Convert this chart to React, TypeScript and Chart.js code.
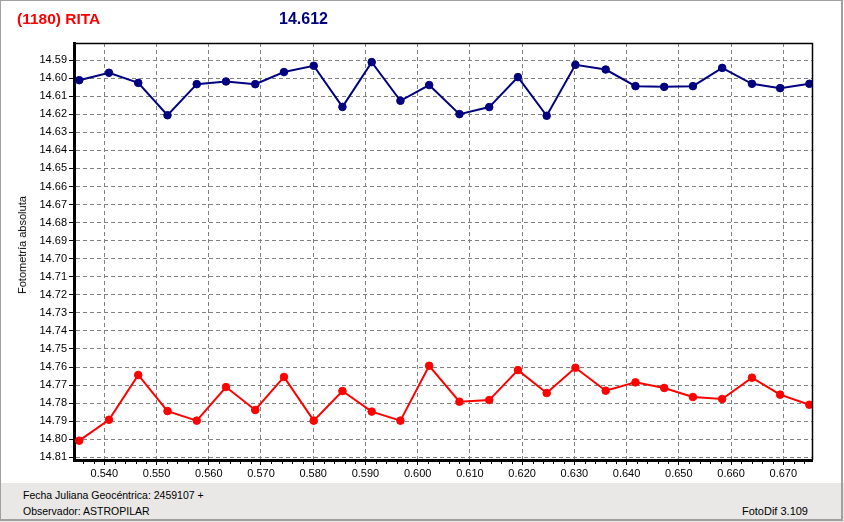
import React, { useEffect, useRef } from "react";
import { Chart, registerables } from "chart.js";

Chart.register(...registerables);

const xValues = [
  0.5352, 0.5409, 0.5465, 0.5521, 0.5577, 0.5633, 0.5689, 0.5744, 0.5801,
  0.5856, 0.5912, 0.5967, 0.6022, 0.608, 0.6137, 0.6192, 0.6247, 0.6302,
  0.636, 0.6417, 0.6472, 0.6527, 0.6583, 0.664, 0.6694, 0.675,
];
const blueValues = [
  14.6011, 14.597, 14.6026, 14.6205, 14.6033, 14.6018, 14.6033, 14.5966,
  14.5931, 14.6159, 14.5911, 14.6125, 14.6038, 14.6199, 14.616, 14.5994,
  14.6208, 14.5926, 14.5952, 14.6044, 14.6048, 14.6044, 14.5943, 14.6031,
  14.6055, 14.6031,
];
const redValues = [
  14.8008, 14.7892, 14.7644, 14.7844, 14.7897, 14.7711, 14.7838, 14.7655,
  14.7897, 14.7733, 14.7847, 14.7897, 14.7593, 14.7792, 14.7783, 14.7617,
  14.7744, 14.7604, 14.7731, 14.7685, 14.7716, 14.7766, 14.7777, 14.7659,
  14.7753, 14.7809,
];
const titleText = "(1180) RITA";
const valueText = "14.612";
const yAxisTitle = "Fotometría absoluta";
const footerLeft1 = "Fecha Juliana Geocéntrica: 2459107 +";
const footerLeft2 = "Observador: ASTROPILAR";
const footerRight = "FotoDif 3.109";

const X_MIN = 0.5342;
const X_MAX = 0.6755;
const Y_MIN = 14.5805;
const Y_MAX = 14.8115;

const FONT = "'Liberation Sans', Arial, sans-serif";

const framePlugin = {
  id: "frame",
  afterDraw(chart: any) {
    const { ctx, chartArea, scales } = chart;
    const xs = scales.x;
    ctx.save();
    ctx.strokeStyle = "#000";
    ctx.lineWidth = 1;
    // minor ticks on x axis
    for (let k = 268; k <= 337; k++) {
      if (k % 5 === 0) continue;
      const vv = k * 0.002;
      if (vv < X_MIN || vv > X_MAX) continue;
      const px = Math.round(xs.getPixelForValue(vv)) + 0.5;
      ctx.beginPath();
      ctx.moveTo(px, chartArea.bottom + 1);
      ctx.lineTo(px, chartArea.bottom + 4);
      ctx.stroke();
    }
    ctx.lineWidth = 1.5;
    ctx.beginPath();
    ctx.moveTo(chartArea.left, chartArea.top + 0.5);
    ctx.lineTo(chartArea.right + 0.5, chartArea.top + 0.5);
    ctx.lineTo(chartArea.right + 0.5, chartArea.bottom);
    ctx.stroke();
    ctx.restore();
  },
};

export default function App() {
  const ref = useRef<HTMLCanvasElement | null>(null);

  useEffect(() => {
    document.body.style.margin = "0";
    const canvas = ref.current;
    if (!canvas) return;
    const blueData = xValues.map((x, i) => ({ x, y: blueValues[i] }));
    const redData = xValues.map((x, i) => ({ x, y: redValues[i] }));
    const chart = new Chart(canvas, {
      type: "line",
      data: {
        datasets: [
          {
            data: blueData,
            borderColor: "#000080",
            backgroundColor: "#000080",
            borderWidth: 2,
            pointRadius: 3.8,
            pointBorderWidth: 1,
            pointStyle: "circle",
            tension: 0,
          },
          {
            data: redData,
            borderColor: "#ff0000",
            backgroundColor: "#ff0000",
            borderWidth: 2,
            pointRadius: 3.8,
            pointBorderWidth: 1,
            pointStyle: "circle",
            tension: 0,
          },
        ],
      },
      options: {
        animation: false,
        responsive: false,
        devicePixelRatio: 1,
        layout: { padding: { left: 0, top: 43, right: 32, bottom: 0 } },
        plugins: {
          legend: { display: false },
          tooltip: { enabled: false },
          title: { display: false },
        },
        scales: {
          x: {
            type: "linear",
            position: "bottom",
            min: X_MIN,
            max: X_MAX,
            offset: false,
            afterFit: (s: any) => {
              s.height = 24;
            },
            ticks: {
              stepSize: 0.01,
              includeBounds: false,
              autoSkip: false,
              maxRotation: 0,
              padding: 2,
              color: "#000",
              font: { family: FONT, size: 11 },
              callback: (v: any) => Number(v).toFixed(3),
            },
            grid: {
              color: "#808080",
              lineWidth: 1,
              tickLength: 5,
              tickColor: "#000",
              tickBorderDash: [],
            },
            border: { display: true, color: "#000", width: 3, dash: [4, 3] },
          },
          y: {
            type: "linear",
            reverse: true,
            min: Y_MIN,
            max: Y_MAX,
            afterFit: (s: any) => {
              s.width = 74;
            },
            ticks: {
              stepSize: 0.01,
              includeBounds: false,
              autoSkip: false,
              padding: 2,
              color: "#000",
              font: { family: FONT, size: 11 },
              callback: (v: any) => Number(v).toFixed(2),
            },
            grid: {
              color: "#808080",
              lineWidth: 1,
              tickLength: 5,
              tickColor: "#000",
              tickBorderDash: [],
            },
            border: { display: true, color: "#000", width: 3, dash: [4, 3] },
          },
        },
      },
      plugins: [framePlugin],
    } as any);
    return () => chart.destroy();
  }, []);

  return (
    <div
      style={{
        position: "relative",
        width: 844,
        height: 522,
        background: "#fff",
        overflow: "hidden",
        fontFamily: FONT,
      }}
    >
      <canvas
        ref={ref}
        width={844}
        height={484}
        style={{ position: "absolute", left: 0, top: 0, width: 844, height: 484, display: "block" }}
      />
      <div
        style={{
          position: "absolute",
          left: 17,
          top: 9,
          fontSize: 15.5,
          fontWeight: "bold",
          color: "#ff0000",
          lineHeight: "20px",
          whiteSpace: "nowrap",
        }}
      >
        {titleText}
      </div>
      <div
        style={{
          position: "absolute",
          left: 279,
          top: 9,
          fontSize: 16,
          fontWeight: "bold",
          color: "#000080",
          lineHeight: "20px",
          whiteSpace: "nowrap",
        }}
      >
        {valueText}
      </div>
      <div
        style={{
          position: "absolute",
          left: 22,
          top: 245,
          transform: "translate(-50%, -50%) rotate(-90deg)",
          fontSize: 11,
          color: "#000",
          whiteSpace: "nowrap",
          lineHeight: "12px",
        }}
      >
        {yAxisTitle}
      </div>
      <div
        style={{
          position: "absolute",
          left: 0,
          top: 483,
          width: 844,
          height: 39,
          background: "#e9e8e6",
          fontSize: 10.5,
          color: "#000",
        }}
      >
        <div style={{ position: "absolute", left: 23, top: 5, lineHeight: "14px", whiteSpace: "nowrap" }}>
          {footerLeft1}
        </div>
        <div style={{ position: "absolute", left: 23, top: 21, lineHeight: "14px", whiteSpace: "nowrap" }}>
          {footerLeft2}
        </div>
        <div style={{ position: "absolute", right: 36, top: 21, lineHeight: "14px", whiteSpace: "nowrap", fontSize: 11 }}>
          {footerRight}
        </div>
      </div>
      <div
        style={{
          position: "absolute",
          left: 0,
          top: 0,
          width: 843,
          height: 521,
          boxSizing: "border-box",
          border: "1px solid #a0a0a0",
          borderRightWidth: 2,
          borderBottomWidth: 2,
          pointerEvents: "none",
        }}
      />
    </div>
  );
}
